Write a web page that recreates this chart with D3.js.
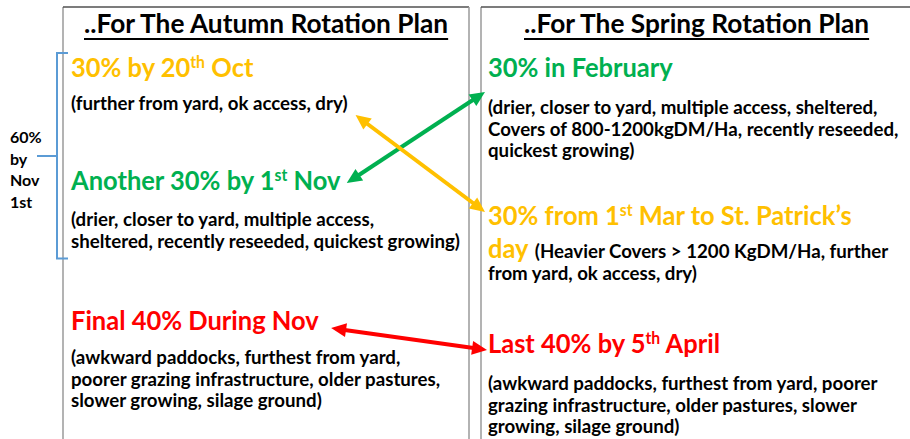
<!DOCTYPE html>
<html>
<head>
<meta charset="utf-8">
<script src="https://cdn.jsdelivr.net/npm/d3@7"></script>
<style>
  html, body { margin: 0; padding: 0; background: #fff; }
  svg { display: block; font-family: Lato, "Open Sans", sans-serif; font-weight: 700; }
</style>
</head>
<body>
<div id="chart"></div>
<script>
// slide texts ({..} marks a superscript)
const planTitles = ["..For The Autumn Rotation Plan", "..For The Spring Rotation Plan"];

const autumnHeads = [["30% by 20{th} Oct"], ["Another 30% by 1{st} Nov"], ["Final 40% During Nov"]];
const autumnNotes = [
  ["(further from yard, ok access, dry)"],
  ["(drier, closer to yard, multiple access,", "sheltered, recently reseeded, quickest growing)"],
  ["(awkward paddocks, furthest from yard,", "poorer grazing infrastructure, older pastures,", "slower growing, silage ground)"]
];
const autumnColors = ["#FFC000", "#00B050", "#FF0000"];

const springHeads = [["30% in February"], ["30% from 1{st} Mar to St. Patrick’s", "day"], ["Last 40% by 5{th} April"]];
const springNotes = [
  ["(drier, closer to yard, multiple access, sheltered,", "Covers of 800-1200kgDM/Ha, recently reseeded,", "quickest growing)"],
  ["(Heavier Covers > 1200 KgDM/Ha, further", "from yard, ok access, dry)"],
  ["(awkward paddocks, furthest from yard, poorer", "grazing infrastructure, older pastures, slower", "growing, silage ground)"]
];
const springColors = ["#00B050", "#FFC000", "#FF0000"];
const springInline = [false, true, false]; // note continues on the last heading line

const sideLabel = ["60%", "by", "Nov", "1st"];

// [autumn block, spring block] pairs joined by double arrows
const swaps = [[1, 0], [0, 1], [2, 2]];

// ---- layout ----
const W = 910, H = 439;
const titleSize = 26, headSize = 26, noteSize = 18.5, sideSize = 16;
const headScale = 0.98, noteScale = 1.01, titleScale = 1.01;

const cols = [
  { x0: 63, x1: 469, tx: 71, titleX: 84 },
  { x0: 481, x1: 915, tx: 488, titleX: 524 }
];
const autumnY = [{ head: 77, note: 110 }, { head: 190, note: 226 }, { head: 330, note: 364 }];
const springY = [{ head: 77, note: 114 }, { head: 225, note: 258 }, { head: 353, note: 390 }];
const noteGap = 21.6, headGap = 33;

const svg = d3.select("#chart").append("svg")
  .attr("width", W)
  .attr("height", H);

// column frames
cols.forEach(c => {
  svg.append("path")
    .attr("d", `M${c.x0},${H + 2}V7`)
    .attr("stroke", "#9a9a9a").attr("stroke-width", 1.5).attr("fill", "none");
  svg.append("path")
    .attr("d", `M${c.x0},7H${c.x1}`)
    .attr("stroke", "#505050").attr("stroke-width", 1.5).attr("fill", "none");
});
svg.append("path")
  .attr("d", `M${cols[0].x1},7V${H + 2}`)
  .attr("stroke", "#9a9a9a").attr("stroke-width", 1.5);

// writes text with {sup} parts into a <text>
function rich(t, str, size) {
  const parts = str.split(/\{([^}]*)\}/);
  const lift = size * 0.36;
  parts.forEach((p, i) => {
    if (p === "") return;
    const sp = t.append("tspan").text(p);
    if (i % 2 === 1) {
      sp.attr("font-size", size * 0.62).attr("dy", -lift);
    } else if (i > 0) {
      sp.attr("dy", lift);
    }
  });
  return t;
}

function line(g, x, y, str, size, color, sx) {
  const t = g.append("text")
    .attr("transform", `translate(${x},${y}) scale(${sx},1)`)
    .attr("font-size", size)
    .attr("fill", color);
  rich(t, str, size);
  t.datum({ x, sx });
  return t;
}

const rightEdge = el => el.datum().x + el.node().getBBox().width * el.datum().sx;

// titles with underline
planTitles.forEach((title, i) => {
  const c = cols[i];
  const t = line(svg, c.titleX, 33, title, titleSize, "#000", titleScale);
  svg.append("line")
    .attr("x1", c.titleX).attr("x2", rightEdge(t))
    .attr("y1", 39).attr("y2", 39)
    .attr("stroke", "#000").attr("stroke-width", 2);
});

// blocks
function drawBlocks(heads, notes, colors, rows, col, inline) {
  return heads.map((hl, i) => {
    const g = svg.append("g");
    const r = rows[i];
    const headEls = hl.map((h, k) =>
      line(g, col.tx, r.head + k * headGap, h, headSize, colors[i], headScale));
    const noteEls = [];
    let startY = r.note;
    let rest = notes[i];
    if (inline && inline[i]) {
      const last = headEls[headEls.length - 1];
      noteEls.push(line(g, rightEdge(last) + 6, r.note, rest[0], noteSize, "#000", noteScale));
      rest = rest.slice(1);
      startY = r.note + noteGap;
    }
    rest.forEach((n, k) => {
      noteEls.push(line(g, col.tx, startY + k * noteGap, n, noteSize, "#000", noteScale));
    });
    return { headEls, noteEls, r };
  });
}

const autumn = drawBlocks(autumnHeads, autumnNotes, autumnColors, autumnY, cols[0]);
const spring = drawBlocks(springHeads, springNotes, springColors, springY, cols[1], springInline);

// bracket for first 60%
const bTop = autumnY[0].head - 24;
const bBot = autumnY[1].note + (autumnNotes[1].length - 1) * noteGap + 11;
const bX = 57, bMid = 156;
svg.append("path")
  .attr("d", `M${bX + 11},${bTop}H${bX}V${bBot}H${bX + 11}M${bX},${bMid}H${bX - 20}`)
  .attr("fill", "none").attr("stroke", "#5B9BD5").attr("stroke-width", 2);

sideLabel.forEach((s, i) => {
  svg.append("text")
    .attr("x", 10).attr("y", 143 + i * 21.7)
    .attr("font-size", sideSize).attr("fill", "#000")
    .text(s);
});

// arrow tip positions from the texts they join
function anchors(pair, idx) {
  const [a, s] = pair;
  const A = autumn[a], S = spring[s];
  const sx = cols[1].x0 + 4;
  if (idx === 0) {
    return [[rightEdge(A.headEls[0]) + 5, A.r.head - 7], [sx, S.r.head + 15]];
  }
  if (idx === 1) {
    return [[rightEdge(A.noteEls[0]) + 8, A.r.note + 5], [sx, S.r.head - 13]];
  }
  return [[rightEdge(A.headEls[0]) + 12, A.r.head - 2], [sx + 2, S.r.head - 3]];
}

function head(p, ang, color) {
  const L = 15, Wd = 7;
  svg.append("path")
    .attr("d", `M0,0L${-L},${-Wd}L${-L},${Wd}Z`)
    .attr("transform", `translate(${p[0]},${p[1]}) rotate(${ang * 180 / Math.PI})`)
    .attr("fill", color);
}

swaps.forEach((pair, idx) => {
  const color = autumnColors[pair[0]];
  const [p0, p1] = anchors(pair, idx);
  const ang = Math.atan2(p1[1] - p0[1], p1[0] - p0[0]);
  const cut = 10;
  svg.append("line")
    .attr("x1", p0[0] + Math.cos(ang) * cut).attr("y1", p0[1] + Math.sin(ang) * cut)
    .attr("x2", p1[0] - Math.cos(ang) * cut).attr("y2", p1[1] - Math.sin(ang) * cut)
    .attr("stroke", color).attr("stroke-width", 4);
  head(p1, ang, color);
  head(p0, ang + Math.PI, color);
});
</script>
</body>
</html>
